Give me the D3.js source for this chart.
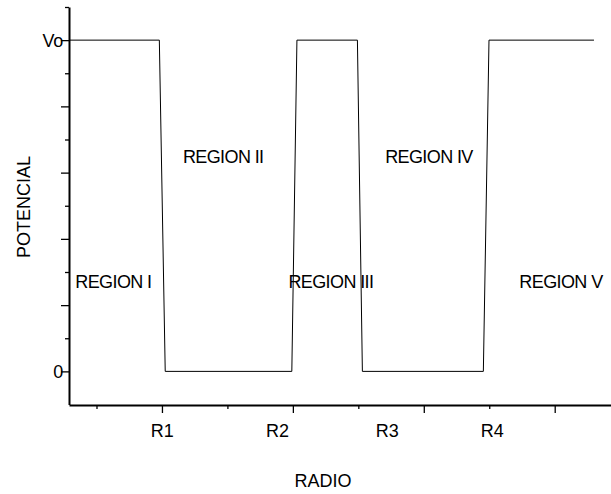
<!DOCTYPE html>
<html>
<head>
<meta charset="utf-8">
<script src="https://cdn.jsdelivr.net/npm/d3@7"></script>
<style>
  body { margin: 0; background: #fff; }
  svg text { font-family: Arial, "Liberation Sans", sans-serif; fill: #000; }
</style>
</head>
<body>
<div id="chart"></div>
<script>
// potential profile (radio, potencial), Vo = 5 units
var radio = [0.29, 0.98, 1.025, 1.992, 2.031, 2.493, 2.531, 3.455, 3.498, 4.30];
var potencial = [5, 5, 0, 0, 5, 5, 0, 0, 5, 5];

var yMajor = [0, 1, 2, 3, 4, 5];
var yMinor = [0.5, 1.5, 2.5, 3.5, 4.5, 5.5];
var yTickText = {0: '0', 5: 'Vo'};

var xMajor = [1, 2, 3, 4];
var xMinor = [0.5, 1.5, 2.5, 3.5];
var rNames = ['R1', 'R2', 'R3', 'R4'];
var rPos = [0.998, 1.879, 2.718, 3.519];

var regionNames = ['REGION I', 'REGION II', 'REGION III', 'REGION IV', 'REGION V'];
var regionX = [0.338, 1.16, 1.966, 2.705, 3.73];
var regionY = [1.26, 3.15, 1.26, 3.15, 1.26];

function drawChart() {
    var W = 611, H = 494;
    var svg = d3.select('#chart').append('svg')
        .attr('width', W)
        .attr('height', H);

    var x = d3.scaleLinear().domain([0.29, 4.43]).range([69, 611]);
    var y = d3.scaleLinear().domain([-0.5, 5.5]).range([404.5, 7]);

    // y axis: minor then major ticks
    svg.append('g')
        .attr('transform', 'translate(69,0)')
        .call(d3.axisLeft(y).tickValues(yMinor).tickSize(4).tickSizeOuter(0).tickFormat(''))
        .call(function(g){ g.select('.domain').remove(); })
        .selectAll('line').attr('stroke-width', 1.3);

    var ga = svg.append('g')
        .attr('transform', 'translate(69,0)')
        .call(d3.axisLeft(y).tickValues(yMajor).tickSize(8).tickSizeOuter(0)
            .tickFormat(function(d){ return yTickText[d] || ''; }));
    ga.select('.domain').attr('stroke-width', 2);
    ga.selectAll('line').attr('stroke-width', 1.3);
    ga.selectAll('text').attr('font-size', 18).attr('x', -6).attr('dy', '0.33em')
        .attr('letter-spacing', -0.3);

    // x axis
    svg.append('g')
        .attr('transform', 'translate(0,405)')
        .call(d3.axisBottom(x).tickValues(xMinor).tickSize(4).tickSizeOuter(0).tickFormat(''))
        .call(function(g){ g.select('.domain').remove(); })
        .selectAll('line').attr('stroke-width', 1.3);

    var gx = svg.append('g')
        .attr('transform', 'translate(0,405)')
        .call(d3.axisBottom(x).tickValues(xMajor).tickSize(8).tickSizeOuter(0).tickFormat(''));
    gx.select('.domain').attr('stroke-width', 2);
    gx.selectAll('line').attr('stroke-width', 1.3);

    // R labels
    var gr = svg.append('g')
        .attr('transform', 'translate(0,405)')
        .call(d3.axisBottom(x).tickValues(rPos).tickSize(0)
            .tickFormat(function(d, i){ return rNames[i]; }));
    gr.select('.domain').remove();
    gr.selectAll('text').attr('font-size', 18).attr('y', 32).attr('dy', 0);

    // potential line
    var pts = radio.map(function(r, i){ return [r, potencial[i]]; });
    var line = d3.line()
        .x(function(d){ return x(d[0]); })
        .y(function(d){ return y(d[1]); });
    svg.append('path')
        .datum(pts)
        .attr('d', line)
        .attr('fill', 'none')
        .attr('stroke', '#000')
        .attr('stroke-width', 1);

    // region labels
    svg.selectAll('.region')
        .data(regionNames)
        .enter().append('text')
        .attr('class', 'region')
        .attr('x', function(d, i){ return x(regionX[i]); })
        .attr('y', function(d, i){ return y(regionY[i]); })
        .attr('font-size', 18)
        .attr('letter-spacing', -0.6)
        .text(function(d){ return d; });

    // axis titles
    svg.append('text')
        .attr('x', 323).attr('y', 487)
        .attr('text-anchor', 'middle')
        .attr('font-size', 18)
        .text('RADIO');

    svg.append('text')
        .attr('transform', 'translate(30,207) rotate(-90)')
        .attr('text-anchor', 'middle')
        .attr('font-size', 18)
        .text('POTENCIAL');
}
drawChart();
</script>
</body>
</html>
